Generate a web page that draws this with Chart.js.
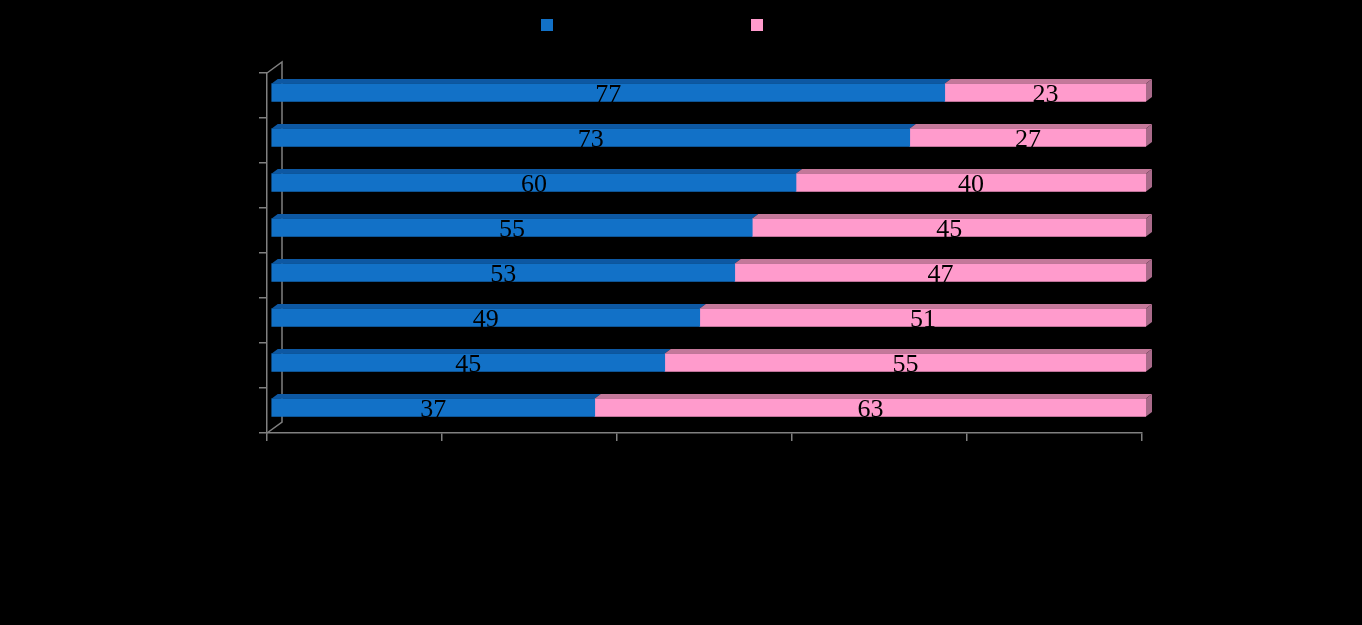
<!DOCTYPE html>
<html>
<head>
<meta charset="utf-8">
<script src="https://cdn.jsdelivr.net/npm/chart.js@4/dist/chart.umd.min.js"></script>
<style>
  html, body { margin: 0; padding: 0; background: #000; }
</style>
</head>
<body>
<canvas id="chart" width="1362" height="625"></canvas>
<script>
// data, top bar first
const categories = ['1', '2', '3', '4', '5', '6', '7', '8'];
const seriesNames = ['Series 1', 'Series 2'];
const blueValues = [77, 73, 60, 55, 53, 49, 45, 37];
const pinkValues = [23, 27, 40, 45, 47, 51, 55, 63];
const xTicks = [0, 20, 40, 60, 80, 100];

const AXIS = '#808080';
const DX = 6, DY = 4.5;   // bar depth
const faces = [
  { top: '#0d58a3', side: '#0a4a8a' },
  { top: '#c4789a', side: '#a96a8a' }
];

// 3D look: back wall, bar tops and sides, value labels
const bar3d = {
  id: 'bar3d',
  beforeDatasetsDraw(chart) {
    const { ctx, chartArea } = chart;
    ctx.save();
    ctx.strokeStyle = AXIS;
    ctx.lineWidth = 1.5;
    ctx.beginPath();
    ctx.moveTo(chartArea.left, chartArea.top);
    ctx.lineTo(chartArea.left + 15, chartArea.top - 11);
    ctx.lineTo(chartArea.left + 15, chartArea.bottom - 11);
    ctx.lineTo(chartArea.left, chartArea.bottom);
    ctx.stroke();
    ctx.restore();

    ctx.save();
    ctx.translate(4, -3);
  },
  afterDatasetsDraw(chart) {
    const { ctx } = chart;
    const last = chart.data.datasets.length - 1;

    chart.data.datasets.forEach((ds, i) => {
      chart.getDatasetMeta(i).data.forEach(el => {
        const p = el.getProps(['x', 'y', 'base', 'height'], true);
        const top = p.y - p.height / 2;
        const bottom = p.y + p.height / 2;
        ctx.fillStyle = faces[i].top;
        ctx.beginPath();
        ctx.moveTo(p.base, top);
        ctx.lineTo(p.base + DX, top - DY);
        ctx.lineTo(p.x + DX, top - DY);
        ctx.lineTo(p.x, top);
        ctx.closePath();
        ctx.fill();
        if (i === last) {
          ctx.fillStyle = faces[i].side;
          ctx.beginPath();
          ctx.moveTo(p.x, top);
          ctx.lineTo(p.x + DX, top - DY);
          ctx.lineTo(p.x + DX, bottom - DY);
          ctx.lineTo(p.x, bottom);
          ctx.closePath();
          ctx.fill();
        }
      });
    });

    ctx.fillStyle = '#000';
    ctx.font = '26px "Liberation Serif", serif';
    ctx.textAlign = 'center';
    ctx.textBaseline = 'middle';
    chart.data.datasets.forEach((ds, i) => {
      chart.getDatasetMeta(i).data.forEach((el, j) => {
        const p = el.getProps(['x', 'y', 'base'], true);
        ctx.fillText(String(ds.data[j]), (p.x + p.base) / 2, p.y + 3);
      });
    });
    ctx.restore();
  },
  afterDraw(chart) {
    // legend: coloured squares, labels in black
    const { ctx } = chart;
    const starts = [541, 751];
    ctx.save();
    ctx.font = '13px "Liberation Sans", sans-serif';
    ctx.textBaseline = 'middle';
    chart.data.datasets.forEach((ds, i) => {
      ctx.fillStyle = ds.backgroundColor;
      ctx.fillRect(starts[i], 19, 12, 12);
      ctx.fillStyle = '#000';
      ctx.fillText(ds.label, starts[i] + 18, 25);
    });
    ctx.restore();
  }
};

new Chart(document.getElementById('chart'), {
  type: 'bar',
  data: {
    labels: categories,
    datasets: [
      { label: seriesNames[0], data: blueValues, backgroundColor: '#1271c7', barThickness: 18 },
      { label: seriesNames[1], data: pinkValues, backgroundColor: '#ff9bcc', barThickness: 18 }
    ]
  },
  options: {
    indexAxis: 'y',
    responsive: false,
    animation: false,
    layout: { padding: { left: 0, right: 220, top: 73, bottom: 152 } },
    scales: {
      x: {
        stacked: true,
        min: 0,
        max: 100,
        afterBuildTicks: s => { s.ticks = xTicks.map(v => ({ value: v })); },
        afterFit: s => { s.height = 40; },
        grid: { drawOnChartArea: false, color: AXIS, tickLength: 8, lineWidth: 1.5 },
        border: { color: AXIS, width: 1.5 },
        ticks: { color: '#000' }
      },
      y: {
        stacked: true,
        afterFit: s => { s.width = 267; },
        grid: { drawOnChartArea: false, color: AXIS, tickLength: 8, lineWidth: 1.5 },
        border: { color: AXIS, width: 1.5 },
        ticks: { color: '#000' }
      }
    },
    plugins: {
      legend: { display: false },
      tooltip: { enabled: false }
    }
  },
  plugins: [bar3d]
});
</script>
</body>
</html>
